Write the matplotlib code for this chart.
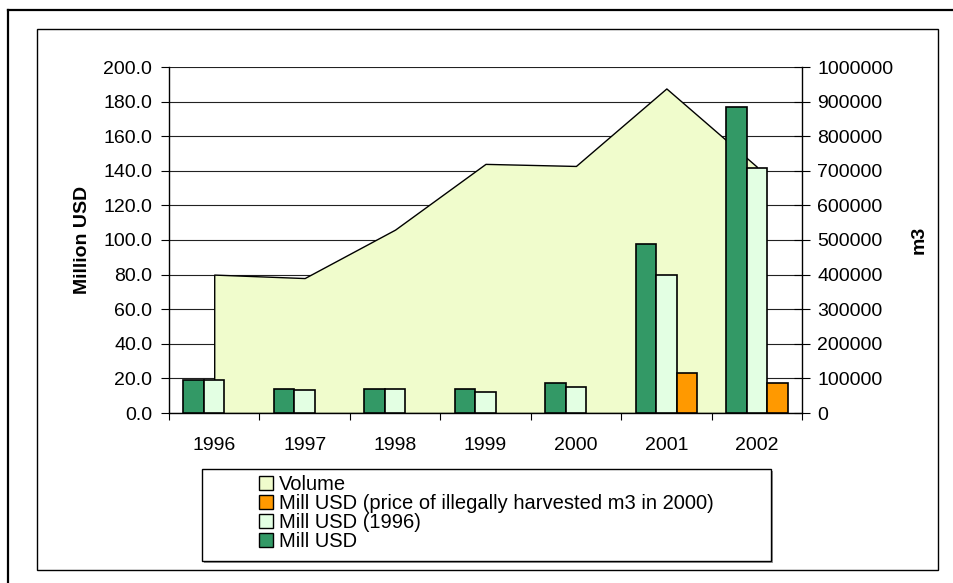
import matplotlib.pyplot as plt
from matplotlib.patches import Patch, Rectangle
from matplotlib.lines import Line2D
from matplotlib.ticker import FormatStrFormatter, MultipleLocator

plt.rcParams['font.family'] = ['Liberation Sans', 'DejaVu Sans']

# dados
years = ['1996', '1997', '1998', '1999', '2000', '2001', '2002']
mill_usd = [19.0, 14.0, 14.0, 14.0, 17.5, 97.8, 176.8]
mill_usd_1996 = [19.0, 13.2, 14.0, 12.0, 15.3, 80.0, 141.6]
mill_usd_illegal = [None, None, None, None, None, 23.2, 17.5]
volume = [400000, 390000, 530000, 720000, 714000, 938000, 712000]

c_dark = '#339966'
c_light = '#E3FFE3'
c_orange = '#FF9900'
c_area = '#F0FCCC'
fs = 14

W, H = 954, 583
fig = plt.figure(figsize=(W / 100, H / 100), dpi=100, facecolor='w')

# molduras externa e interna
fig.add_artist(Line2D([8 / W, 8 / W], [0, 1 - 10 / H], color='k', lw=1.6, transform=fig.transFigure))
fig.add_artist(Line2D([8 / W, 1], [1 - 10 / H, 1 - 10 / H], color='k', lw=1.6, transform=fig.transFigure))
fig.add_artist(Rectangle((37 / W, 1 - 570 / H), (938 - 37) / W, (570 - 29) / H,
                         transform=fig.transFigure, fill=False, ec='k', lw=1.0))

pos = [169 / W, 1 - 413 / H, (802 - 169) / W, (413 - 67) / H]
ax2 = fig.add_axes(pos)          # eixo secundario (volume) fica atras
ax = fig.add_axes(pos, sharex=ax2)
ax.set_zorder(2)
ax.patch.set_visible(False)
ax2.set_zorder(1)

x = list(range(len(years)))

# area do volume
ax2.set_ylim(0, 1000000)
ax2.yaxis.set_major_locator(MultipleLocator(100000))
ax2.yaxis.set_major_formatter(FormatStrFormatter('%d'))
ax2.grid(axis='y', color='#222222', lw=0.8, zorder=0)
ax2.set_axisbelow(True)
ax2.fill_between(x, volume, color=c_area, ec='k', lw=1.0, zorder=2)
ax2.yaxis.tick_right()
ax2.yaxis.set_label_position('right')
ax2.tick_params(axis='y', direction='inout', length=12, width=0.8, pad=5, labelsize=fs)
ax2.tick_params(axis='x', which='both', bottom=False, labelbottom=False)
for s in ['left', 'top', 'bottom']:
    ax2.spines[s].set_visible(False)
ax2.spines['right'].set_linewidth(1.0)
ax2.set_ylabel('m3', fontsize=fs, fontweight='bold')
ax2.yaxis.set_label_coords(1.172, 0.5)

# barras
bw = 0.227
ax.bar([i - bw for i in x], mill_usd, bw, color=c_dark, ec='k', lw=1.2, zorder=3)
ax.bar(x, mill_usd_1996, bw, color=c_light, ec='k', lw=1.2, zorder=3)
xo = [i + bw for i, v in zip(x, mill_usd_illegal) if v is not None]
vo = [v for v in mill_usd_illegal if v is not None]
ax.bar(xo, vo, bw, color=c_orange, ec='k', lw=1.2, zorder=3)

ax.set_ylim(0, 200)
ax.set_xlim(-0.5, 6.5)
ax.yaxis.set_major_locator(MultipleLocator(20))
ax.yaxis.set_major_formatter(FormatStrFormatter('%.1f'))
ax.tick_params(axis='y', direction='out', length=6, width=0.8, pad=6, labelsize=fs)
ax.set_xticks([i - 0.5 for i in range(len(years) + 1)])
ax.set_xticklabels([])
ax.set_xticks(x, minor=True)
ax.set_xticklabels(years, minor=True, fontsize=fs)
ax.tick_params(axis='x', which='major', direction='out', length=5, width=0.8)
ax.tick_params(axis='x', which='minor', length=0, pad=17.5)
for s in ['right', 'top']:
    ax.spines[s].set_visible(False)
ax.spines['left'].set_linewidth(1.0)
ax.spines['bottom'].set_linewidth(1.0)
ax.set_ylabel('Million USD', fontsize=fs, fontweight='bold')
ax.yaxis.set_label_coords(-0.1232, 0.5)

# legenda
fig.add_artist(Rectangle((204 / W, 1 - 563 / H), (773 - 204) / W, (563 - 471) / H,
                         transform=fig.transFigure, fc='#999999', ec='none', zorder=4))
fig.add_artist(Rectangle((202 / W, 1 - 561 / H), (771 - 202) / W, (561 - 469) / H,
                         transform=fig.transFigure, fc='w', ec='k', lw=1.0, zorder=5))
handles = [Patch(fc=c_area, ec='k', lw=1.0),
           Patch(fc=c_orange, ec='k', lw=1.0),
           Patch(fc=c_light, ec='k', lw=1.0),
           Patch(fc=c_dark, ec='k', lw=1.0)]
labels = ['Volume', 'Mill USD (price of illegally harvested m3 in 2000)',
          'Mill USD (1996)', 'Mill USD']
leg = fig.legend(handles, labels, loc='upper left', bbox_to_anchor=(259 / W, 1 - 475 / H),
                 frameon=False, fontsize=14.5, handlelength=0.7, handleheight=0.7,
                 handletextpad=0.3, labelspacing=0.0, borderpad=0, borderaxespad=0)
leg.set_zorder(6)

plt.savefig('out.png', dpi=100, facecolor='w')
